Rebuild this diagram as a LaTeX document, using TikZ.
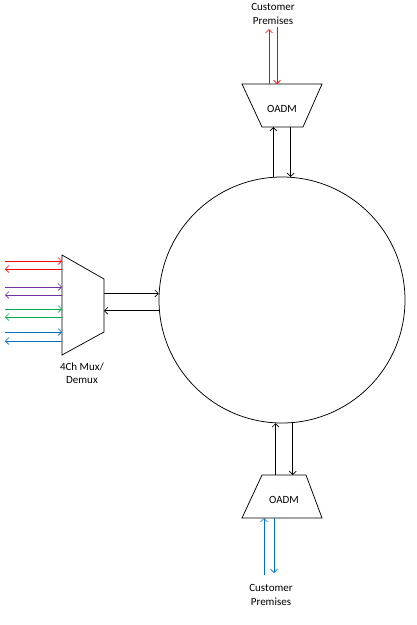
\documentclass[tikz,border=0pt]{standalone}
\usepackage{fontspec}
\setmainfont{Carlito}
\usetikzlibrary{arrows.meta}

\definecolor{fred}{RGB}{255,0,0}
\definecolor{fpurple}{RGB}{112,48,160}
\definecolor{fgreen}{RGB}{0,176,80}
\definecolor{fblue}{RGB}{0,112,192}

\tikzset{
  sig/.style={-{Straight Barb[length=3.5pt,width=7pt]}, line width=0.65pt},
  lbl/.style={font=\fontsize{11}{13.5}\selectfont, align=center, inner sep=0pt}
}

\begin{document}
\begin{tikzpicture}[x=1pt,y=-1pt,line width=0.75pt]
\useasboundingbox (0,0) rectangle (417,625);

% the ring
\node[circle,draw,minimum size=246pt,inner sep=0pt] (ring) at (282,300) {};

% mux / demux
\draw (62,255) -- (104,279) -- (104,332) -- (62,355) -- cycle;
\coordinate (muxw) at (62,305);
\coordinate (muxe) at (104,305);
\node[lbl] (muxlbl) at (82,373) {4Ch Mux/\\Demux};

\foreach \c/\ya/\yb in {fred/261/269,fpurple/287/295,fgreen/309/317,fblue/332/341}{
  \draw[sig,\c] (5,\ya) -- (muxw |- 0,\ya);
  \draw[sig,\c] (muxw |- 0,\yb) -- (5,\yb);
}
\draw[sig] (muxe |- ring.177.7) -- (ring.177.7);
\draw[sig] (ring.185.1) -- (muxe |- ring.185.1);

% top OADM
\draw (242,84) -- (322,84) -- (303,127) -- (262,127) -- cycle;
\coordinate (ttop) at (282,84);
\coordinate (tbot) at (282,127);
\node[lbl] (oadmtop) at (282,109) {OADM};
\node[lbl] (custtop) at (273,14) {Customer\\Premises};
\draw[sig] (ring.94.7) -- (tbot -| ring.94.7);
\draw[sig] (tbot -| ring.86.7) -- (ring.86.7);
\draw[sig,fred] (ttop -| 269,0) -- (269,29);
\draw[sig,fred] (277,27) -- (ttop -| 277,0);

% bottom OADM
\draw (262,475) -- (306,475) -- (322,518) -- (242,518) -- cycle;
\coordinate (btop) at (282,475);
\coordinate (bbot) at (282,518);
\node[lbl] (oadmbot) at (284,500) {OADM};
\node[lbl] (custbot) at (271,595) {Customer\\Premises};
\draw[sig] (btop -| ring.267.7) -- (ring.267.7);
\draw[sig] (ring.275.6) -- (btop -| ring.275.6);
\draw[sig,fblue] (264,575) -- (bbot -| 264,0);
\draw[sig,fblue] (bbot -| 274,0) -- (274,573);
\end{tikzpicture}
\end{document}
